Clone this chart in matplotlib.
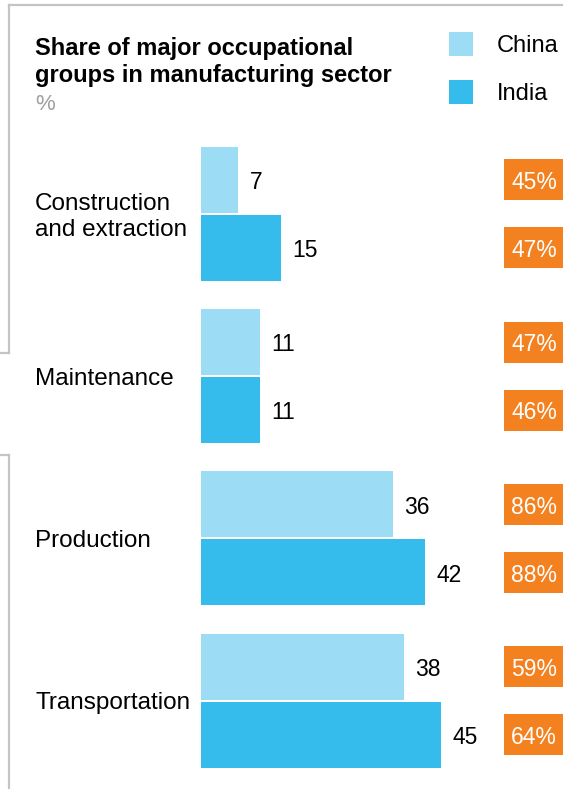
import matplotlib
matplotlib.use("Agg")
import matplotlib.pyplot as plt
from matplotlib.lines import Line2D
from matplotlib.patches import Rectangle
from matplotlib.transforms import blended_transform_factory, offset_copy
import numpy as np

plt.rcParams["font.family"] = ["Liberation Sans", "DejaVu Sans"]

# data
categories = ["Construction\nand extraction", "Maintenance", "Production", "Transportation"]
china = [7, 11, 36, 38]
india = [15, 11, 42, 45]
china_share = ["45%", "47%", "86%", "59%"]
india_share = ["47%", "46%", "88%", "64%"]

CHINA_C = "#9ddcf5"
INDIA_C = "#35bbec"
ORANGE = "#f48120"
FRAME = "#c4c4c4"

W, H = 563, 789
fig = plt.figure(figsize=(W / 100, H / 100), dpi=100)


def fx(px):
    return px / W


def fy(py):
    return 1 - py / H


# bar axes: bars start at x=201 px, group pitch ~162 px
ax = fig.add_axes([fx(201), fy(781.7), fx(W - 201), (781.7 - 132.9) / H])
px_per_unit = 80 / 15
ax.set_xlim(0, (W - 201) / px_per_unit)
ax.set_ylim(len(categories) - 0.5, -0.5)
ax.axis("off")

y = np.arange(len(categories))
bh = 66 / 162.2
off = 34 / 162.2
ax.barh(y - off, china, height=bh, color=CHINA_C)
ax.barh(y + off, india, height=bh, color=INDIA_C)

fs = 17
for i in range(len(categories)):
    ax.annotate(str(china[i]), (china[i], y[i] - off), xytext=(8, -2),
                textcoords="offset points", va="center", ha="left", fontsize=fs - 0.5)
    ax.annotate(str(india[i]), (india[i], y[i] + off), xytext=(8, -2),
                textcoords="offset points", va="center", ha="left", fontsize=fs - 0.5)

# orange share boxes on the right
tr = blended_transform_factory(fig.transFigure, ax.transData)
tr_txt = offset_copy(tr, fig=fig, x=0, y=-2, units="points")
box_h = 41 / 162.2
for i in range(len(categories)):
    for share, dy in ((china_share[i], -off), (india_share[i], off)):
        ax.add_patch(Rectangle((fx(504), y[i] + dy - box_h / 2), fx(60), box_h,
                               transform=tr, fc=ORANGE, ec="none", clip_on=False))
        ax.text(fx(534), y[i] + dy, share, transform=tr_txt, ha="center", va="center",
                fontsize=fs - 0.5, color="white")

# category labels
for i, cat in enumerate(categories):
    ax.text(fx(35), y[i], cat, transform=tr_txt, ha="left", va="center",
            fontsize=fs + 0.5, linespacing=1.22)

# title block
fig.text(fx(35), fy(62), "Share of major occupational\ngroups in manufacturing sector",
         ha="left", va="center", fontsize=fs, fontweight="bold", linespacing=1.22)
fig.text(fx(35), fy(104), "%", ha="left", va="center", fontsize=fs - 1, color="#a0a0a0")

# legend
for label, col, cy in (("China", CHINA_C, 44), ("India", INDIA_C, 92)):
    fig.add_artist(Rectangle((fx(449), fy(cy + 12)), fx(24), 24 / H,
                             transform=fig.transFigure, fc=col, ec="none"))
    fig.text(fx(497), fy(cy + 2), label, ha="left", va="center", fontsize=fs)

# grey frame fragments
lw = 1.6
frame = [
    ((fx(9), fx(W)), (fy(5), fy(5))),
    ((fx(9), fx(9)), (fy(5), fy(353))),
    ((fx(0), fx(9)), (fy(353), fy(353))),
    ((fx(0), fx(9)), (fy(455), fy(455))),
    ((fx(9), fx(9)), (fy(455), fy(H))),
]
for xs, ys in frame:
    fig.add_artist(Line2D(xs, ys, transform=fig.transFigure, color=FRAME, lw=lw))

fig.savefig("out.png", dpi=100)
